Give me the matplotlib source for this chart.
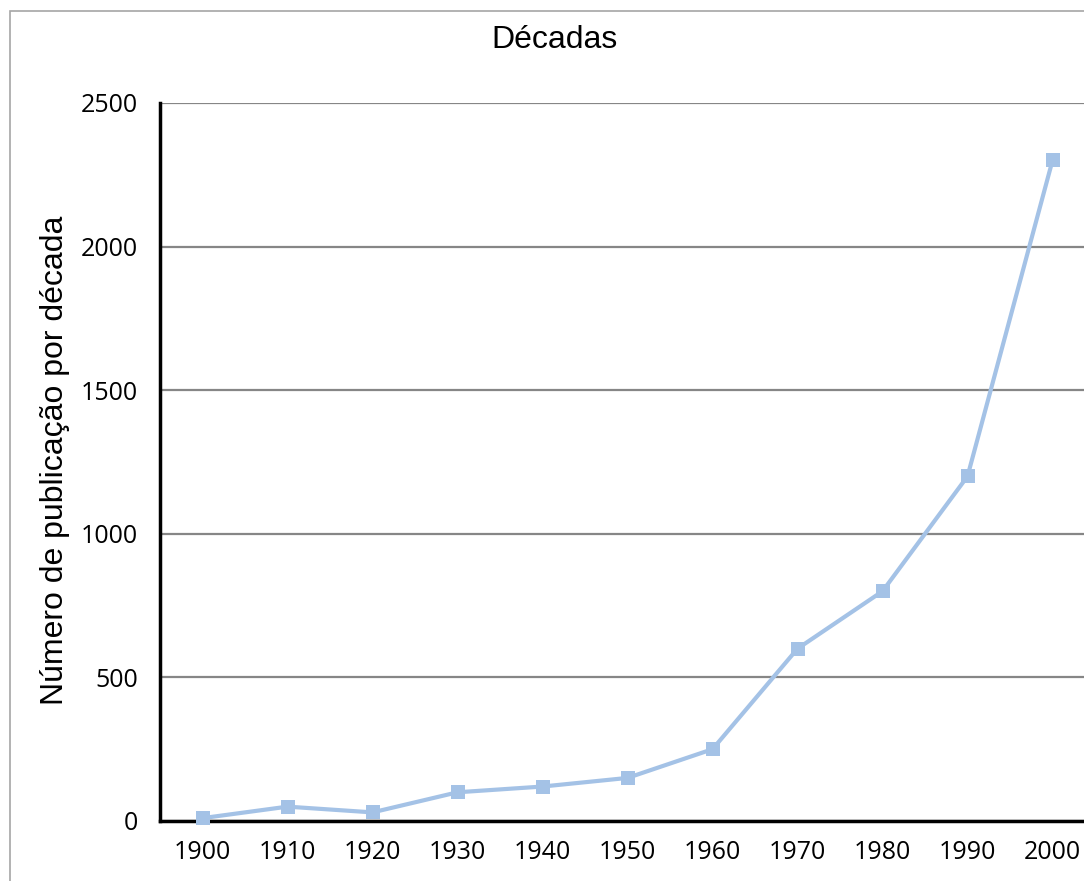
import matplotlib
matplotlib.use("Agg")
from matplotlib import pyplot as plt
from matplotlib.patches import Rectangle

decadas = ['1900', '1910', '1920', '1930', '1940', '1950',
           '1960', '1970', '1980', '1990', '2000']
publicacoes = [10, 50, 30, 100, 120, 150, 250, 600, 800, 1200, 2300]
yticks = [0, 500, 1000, 1500, 2000, 2500]

W, H = 1084, 881
fig = plt.figure(figsize=(W / 100, H / 100), dpi=100)

# light grey chart border (cut off at right and bottom)
fig.patches.append(Rectangle((10 / W, -0.1), 1.2, (H - 11) / H + 0.1,
                             transform=fig.transFigure, fill=False,
                             edgecolor='#a6a6a6', linewidth=1.2))

# plot area runs slightly past the right edge of the picture
ax = fig.add_axes([160 / W, 60 / H, 935 / W, 718 / H])
x = list(range(len(decadas)))
ax.plot(x, publicacoes, '-s', color='#a4c2e6', linewidth=3,
        markersize=9.5, markeredgewidth=0, clip_on=False, zorder=3)

ax.set_xlim(-0.5, len(decadas) - 0.5)
ax.set_ylim(0, 2500)
ax.set_xticks(x)
ax.set_xticklabels(decadas)
ax.set_yticks(yticks)
ax.yaxis.grid(True, color='#868686', linewidth=1.6)
ax.set_axisbelow(True)
ax.tick_params(length=0, labelsize=18)
ax.tick_params(axis='y', pad=16)
ax.tick_params(axis='x', pad=14)
for lab in ax.get_xticklabels() + ax.get_yticklabels():
    lab.set_fontfamily('Open Sans')

ax.spines['top'].set_visible(False)
ax.spines['right'].set_visible(False)
ax.spines['left'].set_linewidth(2.5)
ax.spines['bottom'].set_linewidth(2.5)
ax.spines['left'].set_color('black')
ax.spines['bottom'].set_color('black')

fig.text(555 / W, 1 - 40 / H, 'Décadas', ha='center', va='center',
         fontsize=23, family='Liberation Sans')
fig.text(55 / W, 1 - 460 / H, 'Número de publicação por década',
         ha='center', va='center', rotation=90,
         fontsize=23, family='Liberation Sans')

fig.savefig('out.png', dpi=100)
